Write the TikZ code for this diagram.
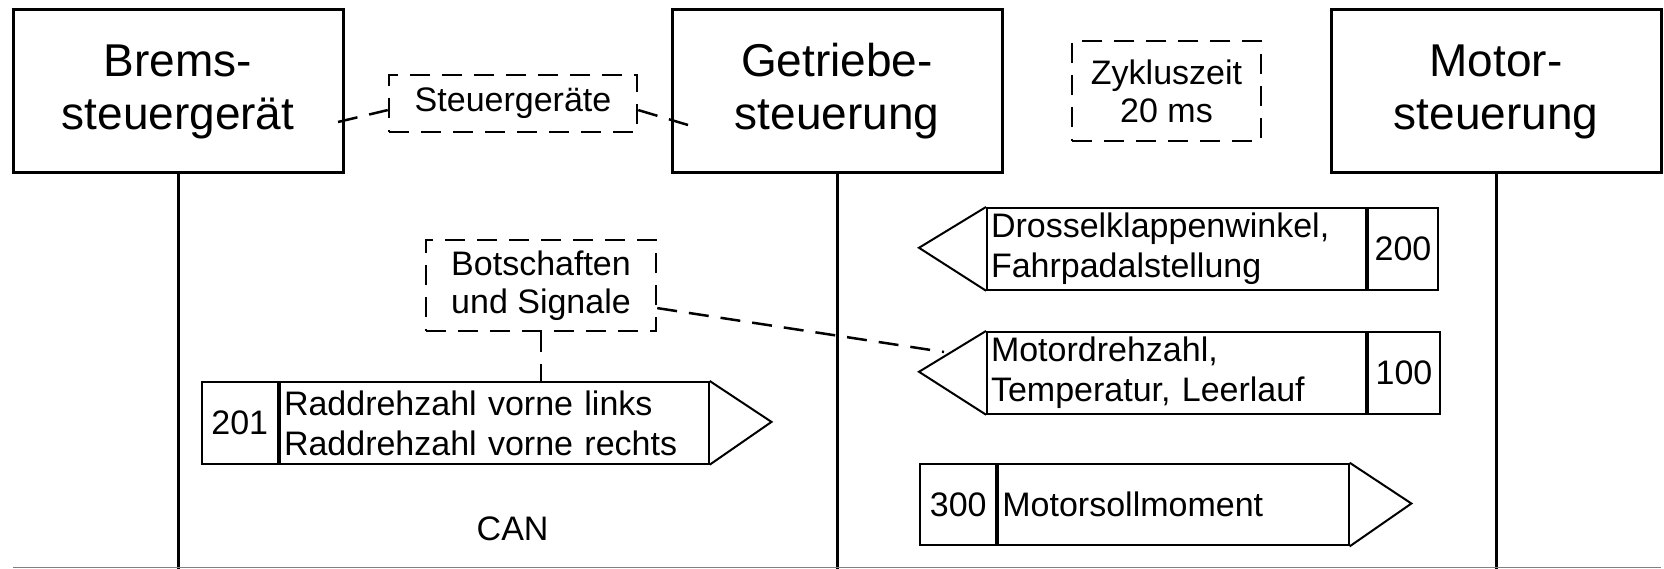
\documentclass[tikz,border=0pt]{standalone}
\usepackage{fontspec}
\setmainfont{Liberation Sans}
\begin{document}
\begin{tikzpicture}[x=1pt,y=-1pt,
  ecu/.style={draw, line width=3pt, minimum width=330pt, minimum height=163pt,
    align=center, inner sep=0pt, font=\fontsize{46}{53}\selectfont},
  note/.style={draw, line width=2.5pt, dash pattern=on 20pt off 12pt,
    align=center, inner sep=0pt, font=\fontsize{34}{38}\selectfont},
  link/.style={line width=2.5pt, dash pattern=on 20pt off 12pt},
  bus/.style={line width=3pt},
  msg/.style={draw, line width=2pt, minimum height=81.7pt, inner sep=0pt,
    font=\fontsize{34}{40}\selectfont, anchor=north west},
  numcell/.style={msg, align=center},
  txtcell/.style={msg, align=left, inner xsep=4pt, text width=#1},
  tipline/.style={line width=2pt, line join=miter}
]
\useasboundingbox (0,0) rectangle (1664,569);
\fill[white] (0,0) rectangle (1664,569);

% control units
\node[ecu] (brems) at (178,91.5) {Brems-\\steuergerät};
\node[ecu] (getr)  at (837,91.5) {Getriebe-\\steuerung};
\node[ecu] (motor) at (1496,91.5) {Motor-\\steuerung};

\coordinate (bottom) at (0,569);
\draw[bus] (brems.south) -- (brems.south |- bottom);
\draw[bus] (getr.south) -- (getr.south |- bottom);
\draw[bus] (motor.south) -- (motor.south |- bottom);
\draw[gray, line width=1.5pt] (13,567.5) coordinate (gl) -- (1661,567.5) coordinate (gr);

% notes
\node[note, minimum width=248pt, minimum height=57pt] (steu) at (513,103.5) {Steuergeräte};
\node[note, minimum width=189pt, minimum height=100pt] (zyk) at (1166.5,91) {Zykluszeit\\20 ms};
\node[note, minimum width=230pt, minimum height=91pt] (bot) at (541,285.5) {Botschaften\\und Signale};

\coordinate (bremsin) at (338,122);
\coordinate (getrin) at (688,125);
\draw[link] (bremsin) -- (steu.183);
\draw[link] (steu.357) -- (getrin);

% message 201
\node[numcell, minimum width=76.4pt] (num201) at (200.6,381) {201};
\node[txtcell=420.7pt] (txt201) at (num201.north east) {Raddrehzahl vorne links\\Raddrehzahl vorne rechts};
\coordinate (tip201) at (771.5,421.9);
\draw[tipline] (txt201.north east) -- (tip201) -- (txt201.south east);

% message 200
\node[txtcell=371pt] (txt200) at (986,207) {Drosselklappenwinkel,\\Fahrpadalstellung};
\node[numcell, minimum width=70pt] (num200) at (txt200.north east) {200};
\coordinate (tip200) at (919,247.8);
\draw[tipline] (txt200.north west) -- (tip200) -- (txt200.south west);

% message 100
\node[txtcell=371pt] (txt100) at (986,331) {Motordrehzahl,\\Temperatur, Leerlauf};
\node[numcell, minimum width=72pt] (num100) at (txt100.north east) {100};
\coordinate (tip100) at (919,371.8);
\draw[tipline] (txt100.north west) -- (tip100) -- (txt100.south west);

% message 300
\node[numcell, minimum width=76.4pt] (num300) at (919,462.7) {300};
\node[txtcell=342.2pt] (txt300) at (num300.north east) {Motorsollmoment};
\coordinate (tip300) at (1411.4,503.5);
\draw[tipline] (txt300.north east) -- (tip300) -- (txt300.south east);

% links from Botschaften note
\draw[link] (bot.south) -- (bot.south |- txt201.north);
\coordinate (d100) at (944,352);
\draw[link] (bot.349) -- (d100);

% bus label
\node[font=\fontsize{34}{40}\selectfont, inner sep=0pt] (can) at (512.6,528.5) {CAN};
\end{tikzpicture}
\end{document}
